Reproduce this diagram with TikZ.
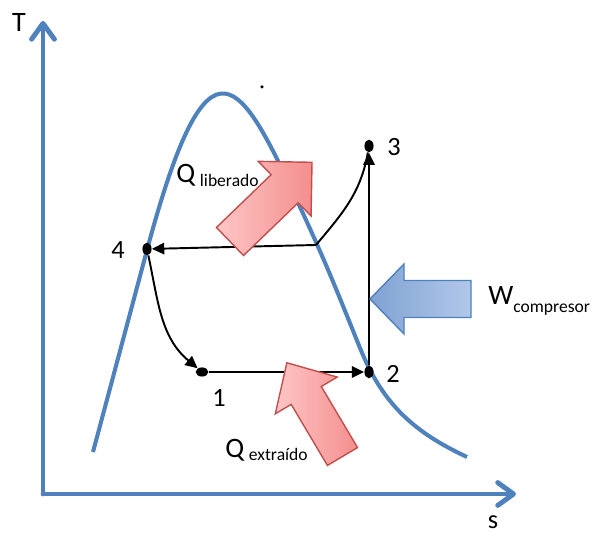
\documentclass[tikz,border=0pt]{standalone}
\usepackage{fontspec}
\setmainfont{Carlito}
\usetikzlibrary{arrows.meta, shapes.geometric, positioning}

\definecolor{axisblue}{RGB}{79,129,189}
\definecolor{qedge}{RGB}{192,80,77}
\definecolor{qlight}{RGB}{255,198,198}
\definecolor{qdark}{RGB}{244,142,142}
\definecolor{wlight}{RGB}{178,200,233}
\definecolor{wdark}{RGB}{128,162,211}

% block arrow: style, tail centre, angle, shaft length, shaft half width, head length, head half width
\newcommand{\fatarrow}[7]{%
  \draw[#1, shift={#2}, rotate=#3] (0,-#5) -- (#4,-#5) -- (#4,-#7) -- ({#4+#6},0) -- (#4,#7) -- (#4,#5) -- (0,#5) -- cycle;}

\begin{document}
\begin{tikzpicture}[x=0.02cm, y=0.02cm,
  axis/.style={axisblue, line width=2.8pt, line cap=round, -{Straight Barb[length=9pt, width=13pt, round]}},
  dome/.style={axisblue, line width=2.3pt},
  cyc/.style={black, line width=1.1pt, -{Triangle[length=7pt, width=6.5pt]}},
  pt/.style={ellipse, fill=black, inner sep=0pt, minimum width=5.2pt, minimum height=7.2pt},
  lbl/.style={font=\fontsize{15}{18}\selectfont, inner sep=0pt},
  heat/.style={draw=qedge, line width=0.8pt, left color=qlight, right color=qdark},
  work/.style={draw=axisblue, line width=0.8pt, left color=wdark, right color=wlight}]
  \useasboundingbox (0,0) rectangle (595,533);

  % coordinate axes
  \coordinate (o) at (43,39);
  \coordinate (ttip) at (43,512);
  \coordinate (stip) at (516,39);
  \draw[axis] (o) -- (ttip);
  \draw[axis] (o) -- (stip);
  \node[lbl, font=\fontsize{16}{19}\selectfont] (tlab) at (19,511) {T};
  \node[lbl] (slab) at (493,11) {s};

  % saturation dome
  \draw[dome] (93,81) -- (147,283) .. controls (209.7,516.8) and (241.2,452) .. (300,326)
    to[out=-65, in=112] (360,185) to[out=-68, in=155] (467,76);
  \fill (262,446) circle (1pt);

  % cycle points
  \node[pt, minimum width=7.2pt, minimum height=5.2pt] (p1) at (202,161) {};
  \node[pt] (p2) at (369,161) {};
  \node[pt] (p3) at (369,387) {};
  \node[pt] (p4) at (147,284) {};
  \coordinate (knee) at (316,288);

  \node[lbl] (n1) at (219,135) {1};
  \node[lbl] (n2) at (393,159) {2};
  \node[lbl] (n3) at (394,386) {3};
  \node[lbl] (n4) at (118,283) {4};

  % cycle lines
  \draw[cyc] (p1) -- (p2);
  \draw[cyc] (p2) -- (p3);
  \draw[black, line width=1.1pt] (p3) to[out=-100, in=50] (knee);
  \draw[cyc] (knee) -- (p4);
  \draw[cyc] (p4) to[out=-78, in=140] (p1);

  % heat and work labels
  \node[anchor=base west, inner sep=0pt, font=\fontsize{16}{19}\selectfont] (qlib) at (176,350) {Q\,\raisebox{-2pt}{\fontsize{10}{12}\selectfont liberado}};
  \node[anchor=base west, inner sep=0pt, font=\fontsize{16}{19}\selectfont] (qext) at (225,75) {Q\,\raisebox{-1.7pt}{\fontsize{10}{12}\selectfont extraído}};
  \node[anchor=base west, inner sep=0pt, font=\fontsize{16}{19}\selectfont] (wcomp) at (488,228) {W\raisebox{-4.5pt}{\fontsize{10}{12}\selectfont compresor}};

  % block arrows
  \fatarrow{heat}{(230,291.5)}{44}{76}{19.5}{38}{38}
  \fatarrow{heat}{(342.5,76.5)}{120.7}{71}{17.5}{38}{36}
  \fatarrow{work}{(471,234)}{180}{67}{18.5}{34}{35}
\end{tikzpicture}
\end{document}
